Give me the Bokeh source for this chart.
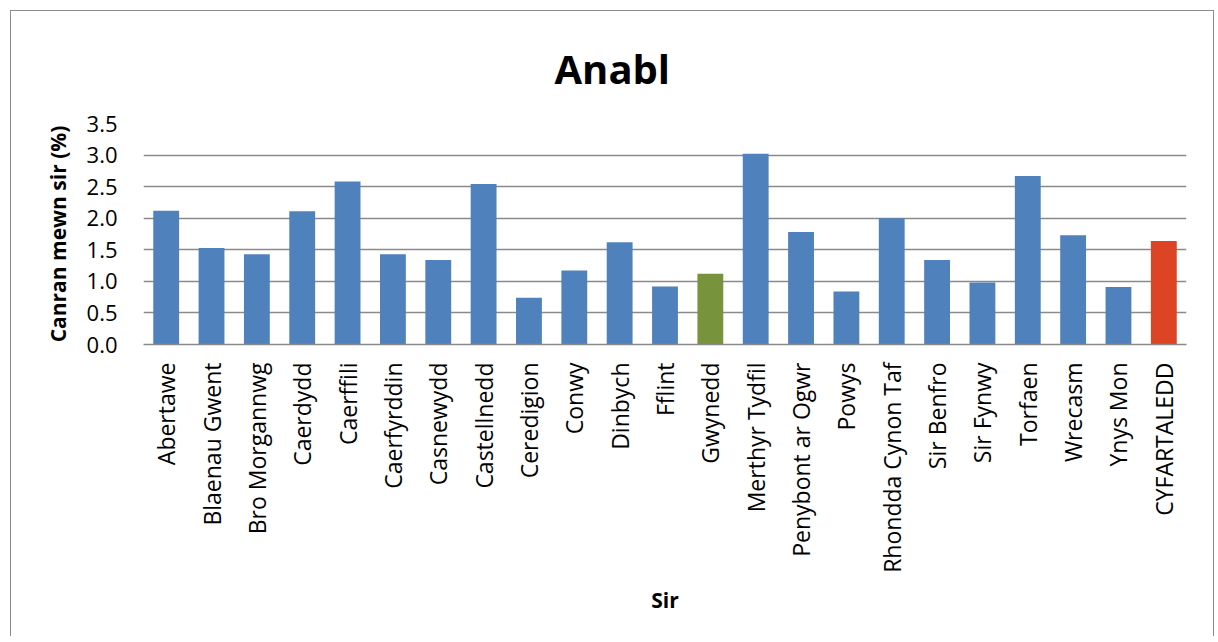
from bokeh.plotting import figure
from bokeh.models import FactorRange, Range1d, FixedTicker, NumeralTickFormatter, Title, ColumnDataSource
from bokeh.embed import file_html
from bokeh.resources import INLINE
import math

categories = ["Abertawe", "Blaenau Gwent", "Bro Morgannwg", "Caerdydd", "Caerffili",
              "Caerfyrddin", "Casnewydd", "Castellnedd", "Ceredigion", "Conwy",
              "Dinbych", "Fflint", "Gwynedd", "Merthyr Tydfil", "Penybont ar Ogwr",
              "Powys", "Rhondda Cynon Taf", "Sir Benfro", "Sir Fynwy", "Torfaen",
              "Wrecasm", "Ynys Mon", "CYFARTALEDD"]
values = [2.12, 1.53, 1.43, 2.11, 2.58,
          1.43, 1.34, 2.54, 0.74, 1.17,
          1.62, 0.92, 1.12, 3.02, 1.78,
          0.84, 2.00, 1.34, 0.98, 2.67,
          1.73, 0.91, 1.64]
y_ticks = [0.0, 0.5, 1.0, 1.5, 2.0, 2.5, 3.0, 3.5]
title_text = "Anabl"
x_label = "Sir"
y_label = "Canran mewn sir (%)"

BLUE = "#4F81BD"
GREEN = "#77933C"
RED = "#DD4424"
colors = []
for c in categories:
    if c == "Gwynedd":
        colors.append(GREEN)
    elif c == "CYFARTALEDD":
        colors.append(RED)
    else:
        colors.append(BLUE)

src = ColumnDataSource(dict(cat=categories, val=values, color=colors))

FONT = "Open Sans"
W, H = 1204, 626

p = figure(width=W, height=H, output_backend="svg", toolbar_location=None,
           x_range=FactorRange(*categories, range_padding=0),
           y_range=Range1d(0, 3.5),
           min_border_left=132, min_border_right=29, min_border_top=112,
           min_border_bottom=293)
p.margin = (10, 0, 0, 10)
p.styles = {"border-top": "1px solid #8c8c8c", "border-left": "1px solid #8c8c8c",
            "border-right": "1px solid #8c8c8c"}

t = Title(text=title_text, align="left", text_font=FONT, text_font_size="40px",
          text_font_style="bold", text_color="black", standoff=55, offset=411)
p.add_layout(t, "above")

p.vbar(x="cat", top="val", width=0.57, color="color", line_color=None, source=src)

p.outline_line_color = None
p.background_fill_color = "white"
p.border_fill_color = None

p.xgrid.grid_line_color = None
p.ygrid.grid_line_color = "#8a8a8a"
p.ygrid.grid_line_width = 1.5
p.ygrid.ticker = FixedTicker(ticks=y_ticks)

p.yaxis.ticker = FixedTicker(ticks=y_ticks)
p.yaxis.formatter = NumeralTickFormatter(format="0.0")
p.yaxis.axis_line_color = None
p.yaxis.major_tick_line_color = None
p.yaxis.minor_tick_line_color = None
p.yaxis.major_tick_out = 0
p.yaxis.major_label_standoff = 26
p.yaxis.major_label_text_font = FONT
p.yaxis.major_label_text_font_size = "22px"
p.yaxis.major_label_text_color = "black"
p.yaxis.axis_label = y_label
p.yaxis.axis_label_text_font = FONT
p.yaxis.axis_label_text_font_size = "21px"
p.yaxis.axis_label_text_font_style = "bold"
p.yaxis.axis_label_text_color = "black"
p.yaxis.axis_label_standoff = 12

p.xaxis.axis_line_color = "#8a8a8a"
p.xaxis.axis_line_width = 1.5
p.xaxis.major_tick_line_color = None
p.xaxis.minor_tick_line_color = None
p.xaxis.major_tick_out = 0
p.xaxis.major_label_orientation = math.pi / 2
p.xaxis.major_label_standoff = 18
p.xaxis.major_label_text_font = FONT
p.xaxis.major_label_text_font_size = "23px"
p.xaxis.major_label_text_color = "black"
p.xaxis.axis_label = x_label
p.xaxis.axis_label_text_font = FONT
p.xaxis.axis_label_text_font_size = "21px"
p.xaxis.axis_label_text_font_style = "bold"
p.xaxis.axis_label_text_color = "black"
p.xaxis.axis_label_standoff = 10

open("out.html", "w").write(file_html(p, INLINE))
